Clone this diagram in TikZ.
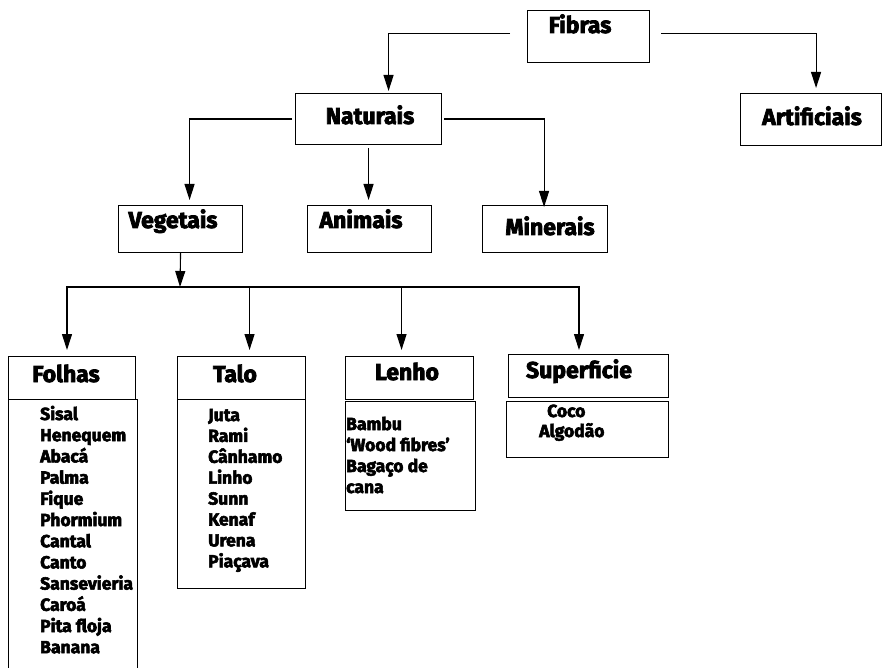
\documentclass[tikz,border=0pt]{standalone}
\usepackage{fontspec}
\setmainfont{Fira Sans}[BoldFeatures={FakeBold=3.2}]
\usetikzlibrary{arrows.meta}

\begin{document}
\begin{tikzpicture}[x=1pt,y=-1pt,
	box/.style={draw,line width=1.1pt,inner sep=0pt,anchor=north west},
	head/.style={anchor=base,inner sep=0pt,font=\fontsize{23}{23}\selectfont\bfseries},
	item/.style={anchor=base west,inner sep=0pt,font=\fontsize{17.5}{21}\selectfont\bfseries},
	conn/.style={line width=1.1pt,line cap=rect},
	arr/.style={line width=1.1pt,-{Triangle[length=16pt,width=10pt]}}]
	\useasboundingbox (0,0) rectangle (883,668);
	\clip (0,0) rectangle (883,668);

	% top levels
	\node[box,minimum width=122pt,minimum height=52pt] (fibras) at (527,10) {};
	\node[box,minimum width=141pt,minimum height=52pt] (artificiais) at (740,93) {};
	\node[box,minimum width=146pt,minimum height=51pt] (naturais) at (295,93) {};
	\node[box,minimum width=124pt,minimum height=47pt] (vegetais) at (118,205) {};
	\node[box,minimum width=124pt,minimum height=47pt] (animais) at (307,205) {};
	\node[box,minimum width=125pt,minimum height=47pt] (minerais) at (482,205) {};

	\node[head] (tfibras) at (580,33) {Fibras};
	\node[head] (tartificiais) at (812,125) {Artificiais};
	\node[head] (tnaturais) at (370,124) {Naturais};
	\node[head] (tvegetais) at (173,228) {Vegetais};
	\node[head] (tanimais) at (361,228) {Animais};
	\node[head] (tminerais) at (550,235) {Minerais};

	% vegetal groups
	\node[box,minimum width=127pt,minimum height=43pt] (folhas) at (8,356) {};
	\node[box,minimum width=129pt,minimum height=300pt] (folhaslist) at (8,399) {};
	\node[box,minimum width=128pt,minimum height=43pt] (talo) at (177,356) {};
	\node[box,minimum width=128pt,minimum height=189pt] (talolist) at (177,399) {};
	\node[box,minimum width=128pt,minimum height=43pt] (lenho) at (345,356) {};
	\node[box,minimum width=130pt,minimum height=109pt] (lenholist) at (345,401) {};
	\node[box,minimum width=160pt,minimum height=43pt] (superficie) at (508,354) {};
	\node[box,minimum width=162pt,minimum height=56pt] (superficielist) at (506,401) {};

	\node[head] (tfolhas) at (66,382) {Folhas};
	\node[head] (ttalo) at (235,382) {Talo};
	\node[head] (tlenho) at (407,380) {Lenho};
	\node[head] (tsuperficie) at (579,378) {Superficie};

	\foreach \t [count=\i] in {Sisal,Henequem,Abacá,Palma,Fique,Phormium,Cantal,Canto,Sansevieria,Caroá,Pita floja,Banana}
		\node[item] (folhas\i) at (40,{420+(\i-1)*21.2}) {\t};
	\foreach \t [count=\i] in {Juta,Rami,Cânhamo,Linho,Sunn,Kenaf,Urena,Piaçava}
		\node[item] (talo\i) at (208,{421+(\i-1)*20.9}) {\t};
	\foreach \t [count=\i] in {Bambu,‘Wood fibres’,Bagaço de,cana}
		\node[item] (lenho\i) at (346,{430+(\i-1)*21}) {\t};
	\node[item] (coco) at (547,417) {Coco};
	\node[item] (algodao) at (539,437) {Algodão};

	% connectors
	\draw[arr] ([xshift=-17pt,yshift=3pt]fibras.west) -| ([xshift=20pt,yshift=2pt]naturais.north);
	\draw[arr] ([xshift=11pt,yshift=3pt]fibras.east) -| ([xshift=5pt,yshift=5pt]artificiais.north);
	\draw[arr] ([xshift=-3pt]naturais.west) -| ([xshift=9pt,yshift=5pt]vegetais.north);
	\draw[arr] ([yshift=-3pt]naturais.south) -- ([yshift=5pt]naturais.south |- animais.north);
	\draw[arr] ([xshift=2pt]naturais.east) -| ([xshift=-1pt,yshift=-2pt]minerais.north);

	\coordinate (vbar) at (180,287);
	\coordinate (barL) at (67,287);
	\coordinate (barR) at (579,287);
	\draw[arr] (vegetais.south) -- (vbar);
	\draw[conn] (barL) -- (barR);
	\draw[arr] (barL) -- ([yshift=6pt]barL |- folhas.north);
	\draw[arr] ([xshift=8pt]talo.north |- vbar) -- ([xshift=8pt,yshift=6pt]talo.north);
	\draw[arr] ([xshift=-8pt]lenho.north |- vbar) -- ([xshift=-8pt,yshift=6pt]lenho.north);
	\draw[arr] (barR) -- ([yshift=4pt]barR |- superficie.north);
\end{tikzpicture}
\end{document}
